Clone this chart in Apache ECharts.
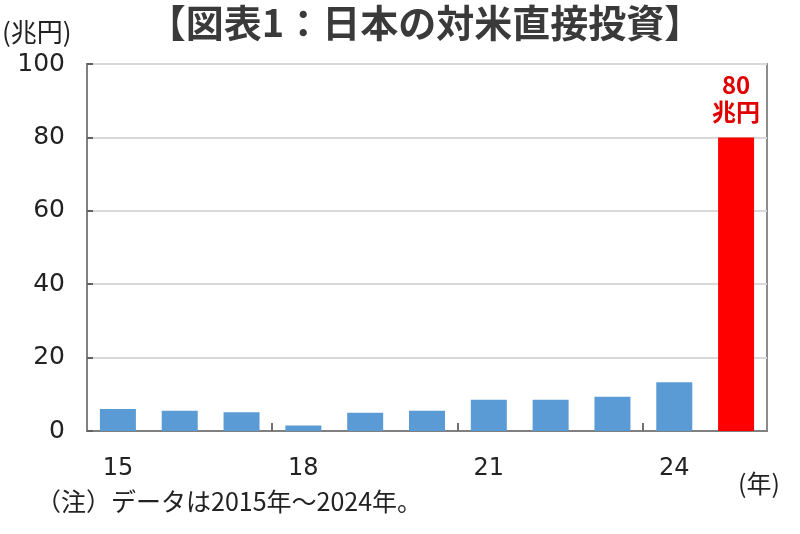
<!DOCTYPE html>
<html>
<head>
<meta charset="utf-8">
<script src="https://cdn.jsdelivr.net/npm/echarts@6/dist/echarts.min.js"></script>
<style>
html,body{margin:0;padding:0;background:#fff;}
#chart{width:800px;height:534px;}
</style>
</head>
<body>
<div id="chart"></div>
<script>
// Data
var categories = ['15','16','17','18','19','20','21','22','23','24',''];
var values = [6.0, 5.5, 5.1, 1.5, 5.0, 5.5, 8.5, 8.5, 9.3, 13.3, 80];
var highlightIndex = 10;
var highlightLabel = '80\n兆円';
var yTicks = [0, 20, 40, 60, 80, 100];
var xTickBoundaries = [3, 6, 9];
var titleText = '【図表1：日本の対米直接投資】';
var unitText = '(兆円)';
var xUnitText = '(年)';
var noteText = '（注）データは2015年～2024年。';

var CJK = '"Noto Sans CJK JP", sans-serif';
var NUM = '"DejaVu Sans", sans-serif';

var chart = echarts.init(document.getElementById('chart'), null, {renderer: 'canvas'});

var seriesData = values.map(function (v, i) {
  if (i === highlightIndex) {
    return {
      value: v,
      itemStyle: {color: '#FF0000'},
      label: {
        show: true,
        position: 'top',
        distance: 12,
        formatter: highlightLabel,
        color: '#E00000',
        fontFamily: CJK,
        fontWeight: 'bold',
        fontSize: 24,
        lineHeight: 27
      }
    };
  }
  return {value: v};
});

var tickData = xTickBoundaries.map(function (b) { return [b, 0]; });

var option = {
  backgroundColor: '#fff',
  animation: false,
  grid: {
    left: 87, right: 33, top: 64, bottom: 103,
    show: true,
    borderColor: '#8c8c8c',
    borderWidth: 2
  },
  xAxis: {
    type: 'category',
    data: categories,
    boundaryGap: true,
    axisLine: {show: true, lineStyle: {color: '#808080', width: 2}},
    axisTick: {show: false},
    axisLabel: {
      interval: function (i) { return i % 3 === 0 && i < 10; },
      margin: 26,
      fontFamily: NUM,
      fontSize: 24,
      color: '#222'
    }
  },
  yAxis: {
    type: 'value',
    min: yTicks[0],
    max: yTicks[yTicks.length - 1],
    interval: 20,
    axisLine: {show: true, lineStyle: {color: '#808080', width: 2}},
    axisTick: {show: true, inside: true, length: 6, lineStyle: {color: '#606060', width: 2}},
    splitLine: {show: true, lineStyle: {color: '#d9d9d9', width: 2}},
    axisLabel: {
      margin: 22,
      fontFamily: NUM,
      fontSize: 25,
      color: '#222'
    }
  },
  series: [{
    type: 'bar',
    data: seriesData,
    barWidth: 36,
    itemStyle: {color: '#5B9BD5'}
  }, {
    type: 'custom',
    silent: true,
    z: 5,
    data: tickData,
    renderItem: function (params, api) {
      var p = api.coord([api.value(0), api.value(1)]);
      var w = api.size([1, 0])[0];
      var x = Math.round(p[0] - w / 2);
      return {
        type: 'line',
        shape: {x1: x, y1: p[1], x2: x, y2: p[1] - 8},
        style: {stroke: '#707070', lineWidth: 2}
      };
    }
  }],
  graphic: [
    {
      type: 'text', x: 425, y: 4,
      style: {text: titleText, font: 'bold 38px ' + CJK, fill: '#3a3a3a', textAlign: 'center'}
    },
    {
      type: 'text', left: 2, top: 19,
      style: {text: unitText, font: '26px ' + CJK, fill: '#222'}
    },
    {
      type: 'text', left: 738, top: 471,
      style: {text: xUnitText, font: '25px ' + CJK, fill: '#222'}
    },
    {
      type: 'text', left: 36, top: 489,
      style: {text: noteText, font: '25px ' + CJK, fill: '#222'}
    }
  ]
};

chart.setOption(option);
</script>
</body>
</html>
